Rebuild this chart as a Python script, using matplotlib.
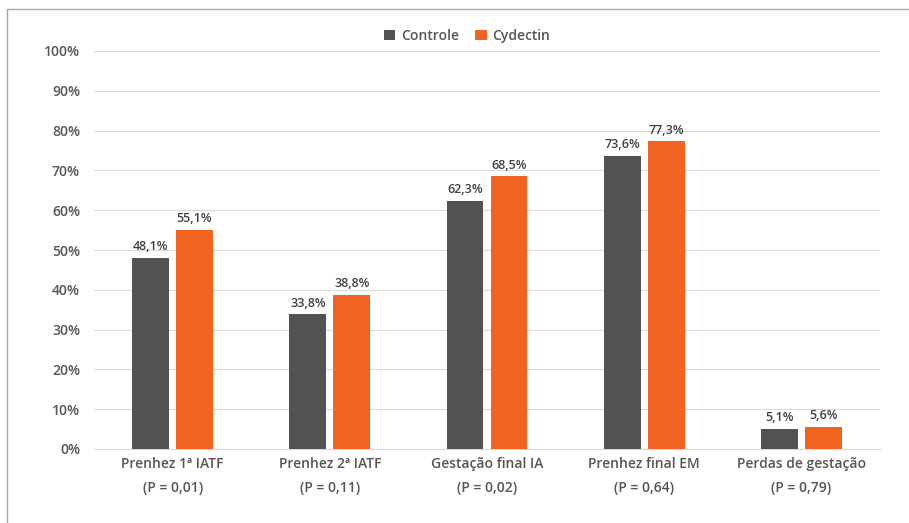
import matplotlib
matplotlib.use("Agg")
import matplotlib.pyplot as plt
import numpy as np
from matplotlib.patches import Rectangle

categories = ["Prenhez 1ª IATF\n(P = 0,01)", "Prenhez 2ª IATF\n(P = 0,11)",
              "Gestação final IA\n(P = 0,02)", "Prenhez final EM\n(P = 0,64)",
              "Perdas de gestação\n(P = 0,79)"]
controle = [48.1, 33.8, 62.3, 73.6, 5.1]
cydectin = [55.1, 38.8, 68.5, 77.3, 5.6]
series_names = ["Controle", "Cydectin"]
yticks = list(range(0, 101, 10))

c_gray = "#525252"
c_orange = "#f26322"
text_c = "#555555"

plt.rcParams['font.family'] = ['Open Sans', 'DejaVu Sans']
plt.rcParams['font.weight'] = 'semibold'

fig = plt.figure(figsize=(9.09, 5.23), dpi=100)
ax = fig.add_axes([94/909, 1-449/523, (880-94)/909, (449-51)/523])

x = np.arange(len(categories))
w = 0.235
off = 0.14
b1 = ax.bar(x - off, controle, w, color=c_gray, label=series_names[0], zorder=3)
b2 = ax.bar(x + off, cydectin, w, color=c_orange, label=series_names[1], zorder=3)

for bars, vals in ((b1, controle), (b2, cydectin)):
    for r, v in zip(bars, vals):
        ax.text(r.get_x() + r.get_width()/2, v + 1.2, f"{v:.1f}%".replace(".", ","),
                ha="center", va="bottom", fontsize=9, color="#404040")

ax.set_xlim(-0.5, len(categories) - 0.5)
ax.set_ylim(0, 100)
ax.set_yticks(yticks)
ax.set_yticklabels([f"{t}%" for t in yticks], fontsize=10, color=text_c)
ax.set_xticks(x)
ax.set_xticklabels(categories, fontsize=10, color=text_c, linespacing=1.85)
ax.tick_params(axis="both", length=0)
ax.tick_params(axis="x", pad=6)
ax.tick_params(axis="y", pad=10)
ax.grid(axis="y", color="#d9d9d9", linewidth=0.8, zorder=0)
for s in ["top", "right", "left"]:
    ax.spines[s].set_visible(False)
ax.spines["bottom"].set_color("#d9d9d9")

fig.legend(handles=[b1, b2], labels=series_names, loc="center",
           bbox_to_anchor=(467/909, 1-36/523), ncol=2, frameon=False,
           fontsize=10, handlelength=0.8, handleheight=0.8, columnspacing=1.2,
           handletextpad=0.4, labelcolor=text_c)

fig.patches.append(Rectangle((7/909, -0.1), 1.2, 1 - 9/523 + 0.1, transform=fig.transFigure,
                             fill=False, edgecolor="#a6a6a6", linewidth=1.0))

fig.savefig("out.png", dpi=100)
